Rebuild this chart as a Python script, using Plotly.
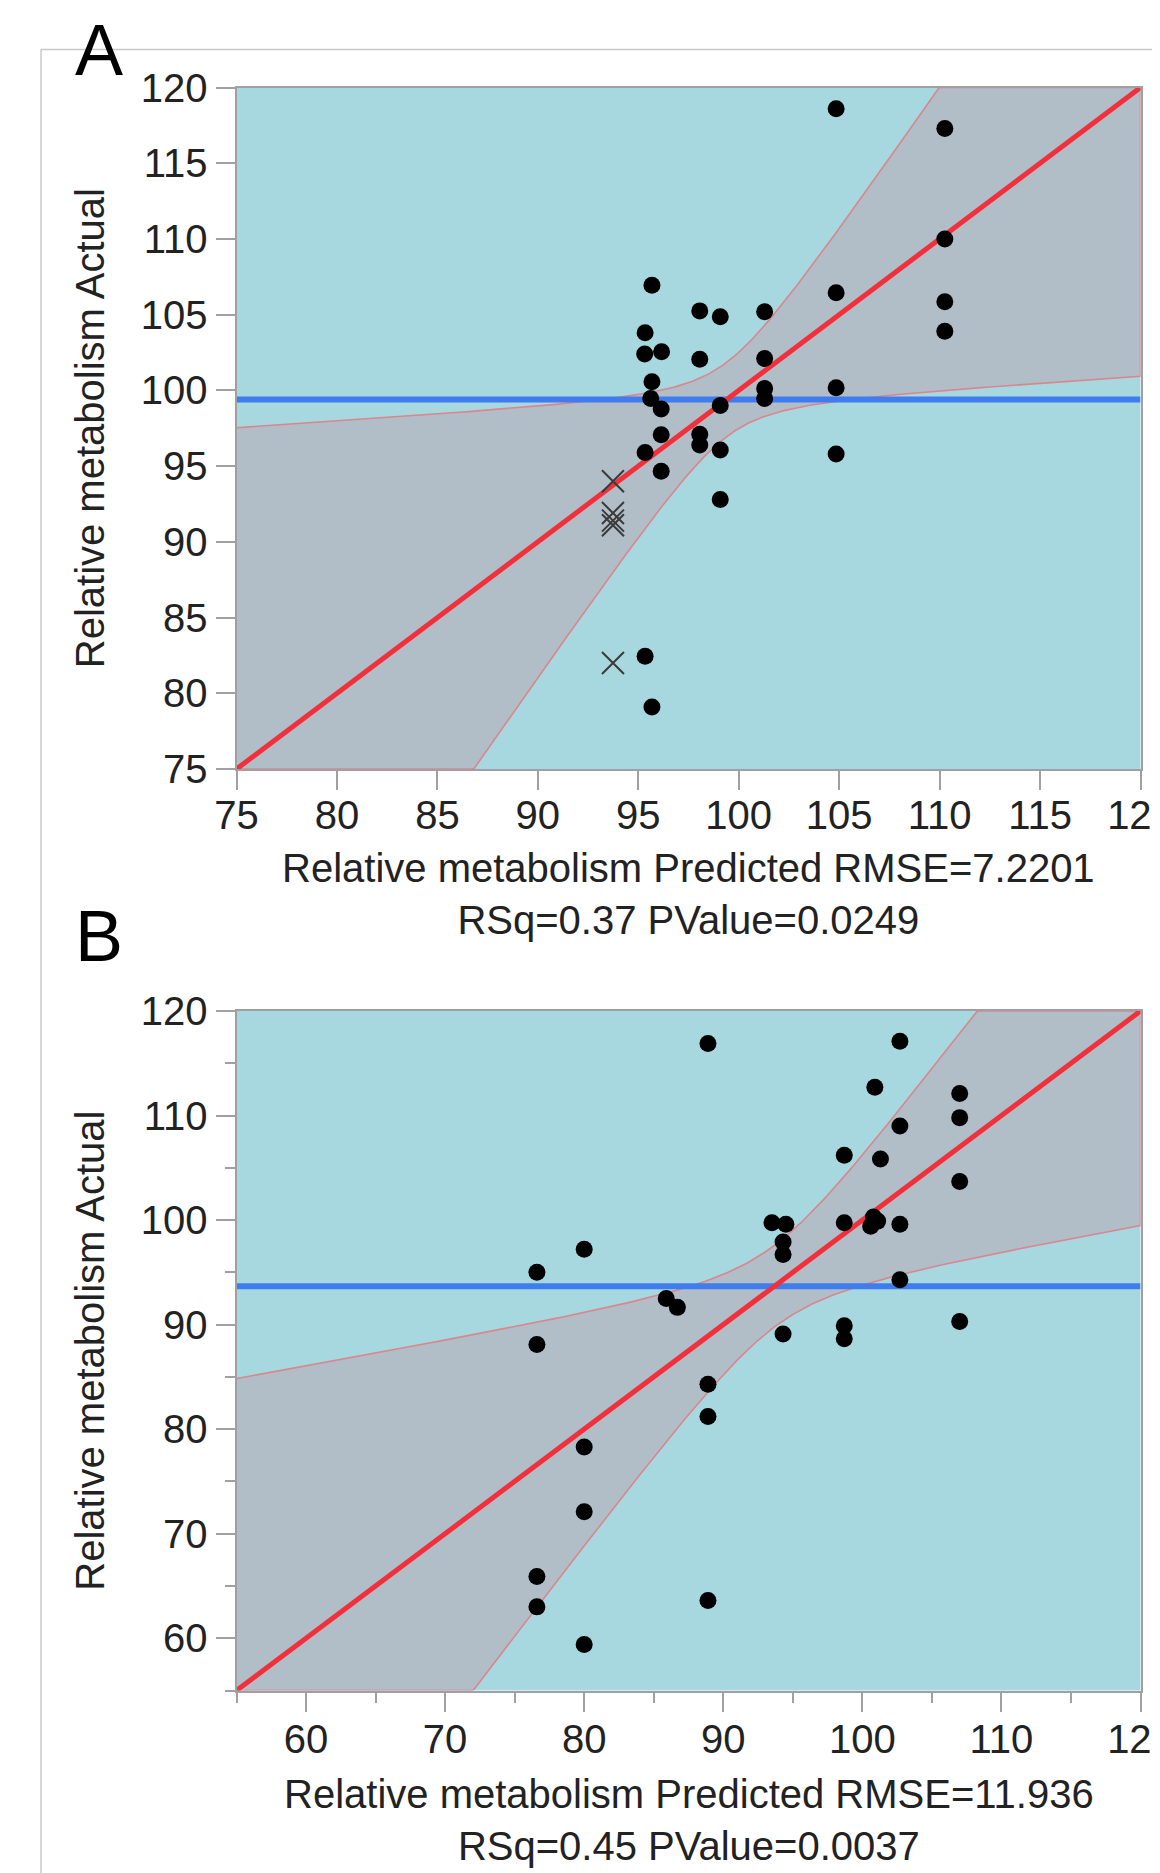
import numpy as np
import plotly.graph_objects as go

# ---------------- data ----------------
A_pred = [104.85, 110.26, 110.26, 110.26, 110.26, 104.85, 104.85, 104.85,
          95.68, 98.06, 99.08, 101.29, 95.34, 95.32, 96.16, 98.06, 101.29,
          95.68, 95.62, 96.14, 99.08, 101.29, 101.29, 96.14, 98.06, 98.06,
          95.34, 99.08, 96.14, 99.08, 95.34, 95.68]
A_actual = [118.6, 117.3, 110.0, 105.85, 103.9, 106.45, 100.17, 95.8,
            106.95, 105.25, 104.86, 105.2, 103.8, 102.4, 102.55, 102.05, 102.1,
            100.57, 99.47, 98.77, 99.0, 100.13, 99.47, 97.07, 97.1, 96.4,
            95.9, 96.06, 94.66, 92.8, 82.45, 79.1]
A_excl_pred = [93.74, 93.74, 93.74, 93.74, 93.74]
A_excl_actual = [94.0, 91.9, 91.4, 91.1, 82.0]

B_pred = [88.9, 102.7, 100.9, 107.0, 107.0, 102.7, 98.7, 101.3, 107.0,
          93.5, 94.5, 94.3, 94.3, 98.7, 100.8, 100.6, 101.1, 102.7, 102.7,
          80.0, 85.9, 86.7, 94.3, 98.7, 98.7, 107.0, 88.9, 88.9, 80.0, 80.0,
          76.6, 76.6, 76.6, 76.6, 88.9, 80.0]
B_actual = [116.9, 117.1, 112.7, 112.1, 109.8, 109.0, 106.2, 105.85, 103.7,
            99.75, 99.6, 97.9, 96.7, 99.75, 100.3, 99.4, 99.9, 99.6, 94.3,
            97.2, 92.5, 91.65, 89.1, 89.9, 88.65, 90.3, 84.3, 81.2, 78.3, 72.1,
            95.0, 88.1, 65.9, 63.0, 63.6, 59.4]

# fit summary (mean of actual, confidence-curve parameters)
A_mean, A_halfwidth, A_slope = 99.4, 2.45, 0.918
B_mean, B_halfwidth, B_slope = 93.67, 3.9, 0.765

A_range = [75, 120]
B_range = [55, 120]
A_ticks = [75, 80, 85, 90, 95, 100, 105, 110, 115, 120]
B_ticks = [60, 70, 80, 90, 100, 110, 120]
B_minor = [55, 65, 75, 85, 95, 105, 115]

A_xtitle = "Relative metabolism Predicted RMSE=7.2201<br>RSq=0.37 PValue=0.0249"
B_xtitle = "Relative metabolism Predicted RMSE=11.936<br>RSq=0.45 PValue=0.0037"
Y_title = "Relative metabolism Actual"

# ---------------- styling ----------------
OFF = 8                      # default page margin of the html body
W, H = 1160 - OFF, 1873 - OFF
FONT = "Liberation Sans, Arial, sans-serif"
BG = "#A7D8DF"
BAND = "#B1BEC7"
CURVE = "#D9868E"
RED = "#F2303C"
BLUE = "#3F7DEE"
AX = "#A0A0A0"
TXT = "#222222"

# page-pixel positions of the plot frames
PLOT_L, PLOT_R = 236.5, 1140.5
A_TOP, A_BOT = 87.5, 769.0
B_TOP, B_BOT = 1011.0, 1690.5


def px_x(v):
    return (v - OFF) / W


def px_y(v):
    return 1 - (v - OFF) / H


fig = go.Figure()


def add_panel(pred, actual, mean, halfw, slope, rng, xa, ya, excl=None):
    xs = np.linspace(rng[0], rng[1], 400)
    w = np.sqrt(halfw ** 2 + (slope * (xs - mean)) ** 2)
    up = np.clip(xs + w, rng[0], rng[1])
    lo = np.clip(xs - w, rng[0], rng[1])
    fig.add_trace(go.Scatter(
        x=np.concatenate([xs, xs[::-1]]), y=np.concatenate([up, lo[::-1]]),
        fill="toself", fillcolor=BAND, mode="lines",
        line=dict(color=CURVE, width=1.6), xaxis=xa, yaxis=ya,
        hoverinfo="skip", showlegend=False))
    fig.add_trace(go.Scatter(x=rng, y=[mean, mean], mode="lines",
                             line=dict(color=BLUE, width=6), xaxis=xa, yaxis=ya,
                             showlegend=False))
    fig.add_trace(go.Scatter(x=rng, y=rng, mode="lines",
                             line=dict(color=RED, width=5), xaxis=xa, yaxis=ya,
                             showlegend=False))
    if excl is not None:
        fig.add_trace(go.Scatter(x=excl[0], y=excl[1], mode="markers",
                                 marker=dict(symbol="x-thin-open", size=22,
                                             color="#3A3A3A",
                                             line=dict(color="#3A3A3A", width=2)),
                                 xaxis=xa, yaxis=ya, showlegend=False))
    fig.add_trace(go.Scatter(x=pred, y=actual, mode="markers",
                             marker=dict(color="black", size=17),
                             xaxis=xa, yaxis=ya, showlegend=False))


add_panel(A_pred, A_actual, A_mean, A_halfwidth, A_slope, A_range, "x", "y",
          excl=(A_excl_pred, A_excl_actual))
add_panel(B_pred, B_actual, B_mean, B_halfwidth, B_slope, B_range, "x2", "y2")

common = dict(showgrid=False, zeroline=False, showline=True, mirror=True,
              linecolor=AX, linewidth=2, ticks="outside", ticklen=19,
              tickwidth=2, tickcolor=AX,
              tickfont=dict(family=FONT, size=40, color=TXT),
              automargin=False, fixedrange=True)
minor = dict(tickvals=B_minor, ticks="outside", ticklen=10, tickwidth=2,
             tickcolor=AX)

fig.update_layout(
    width=W, height=H,
    margin=dict(l=0, r=0, t=0, b=0),
    paper_bgcolor="white", plot_bgcolor=BG,
    showlegend=False,
    xaxis=dict(common, range=A_range, tickvals=A_ticks,
               domain=[px_x(PLOT_L), px_x(PLOT_R)], anchor="y",
               ticklabeloverflow="allow", ticklabelstandoff=-9),
    yaxis=dict(common, range=A_range, tickvals=A_ticks,
               domain=[px_y(A_BOT), px_y(A_TOP)], anchor="x"),
    xaxis2=dict(common, range=B_range, tickvals=B_ticks,
                domain=[px_x(PLOT_L), px_x(PLOT_R)], anchor="y2",
                ticklabeloverflow="allow", ticklabelstandoff=-7, minor=minor),
    yaxis2=dict(common, range=B_range, tickvals=B_ticks,
                domain=[px_y(B_BOT), px_y(B_TOP)], anchor="x2", minor=minor),
)

annotations = [
    dict(text="A", x=px_x(99), y=px_y(50), xref="paper", yref="paper",
         showarrow=False, font=dict(family=FONT, size=72, color="black"),
         xanchor="center", yanchor="middle"),
    dict(text="B", x=px_x(99), y=px_y(936), xref="paper", yref="paper",
         showarrow=False, font=dict(family=FONT, size=72, color="black"),
         xanchor="center", yanchor="middle"),
    dict(text=A_xtitle, x=px_x((PLOT_L + PLOT_R) / 2), y=px_y(894),
         xref="paper", yref="paper", showarrow=False,
         font=dict(family=FONT, size=40, color=TXT),
         xanchor="center", yanchor="middle", align="center"),
    dict(text=B_xtitle, x=px_x((PLOT_L + PLOT_R) / 2), y=px_y(1820),
         xref="paper", yref="paper", showarrow=False,
         font=dict(family=FONT, size=40, color=TXT),
         xanchor="center", yanchor="middle", align="center"),
    dict(text=Y_title, x=px_x(90), y=px_y((A_TOP + A_BOT) / 2),
         xref="paper", yref="paper", showarrow=False, textangle=-90,
         font=dict(family=FONT, size=40, color=TXT),
         xanchor="center", yanchor="middle"),
    dict(text=Y_title, x=px_x(90), y=px_y((B_TOP + B_BOT) / 2),
         xref="paper", yref="paper", showarrow=False, textangle=-90,
         font=dict(family=FONT, size=40, color=TXT),
         xanchor="center", yanchor="middle"),
]
fig.update_layout(annotations=annotations)

fig.update_layout(shapes=[
    dict(type="line", xref="paper", yref="paper",
         x0=px_x(41), x1=1.0, y0=px_y(49.5), y1=px_y(49.5),
         line=dict(color="#C8C8C8", width=1.5), layer="below"),
    dict(type="line", xref="paper", yref="paper",
         x0=px_x(41), x1=px_x(41), y0=px_y(49.5), y1=0,
         line=dict(color="#C8C8C8", width=1.5), layer="below"),
])

fig.write_html("out.html")
